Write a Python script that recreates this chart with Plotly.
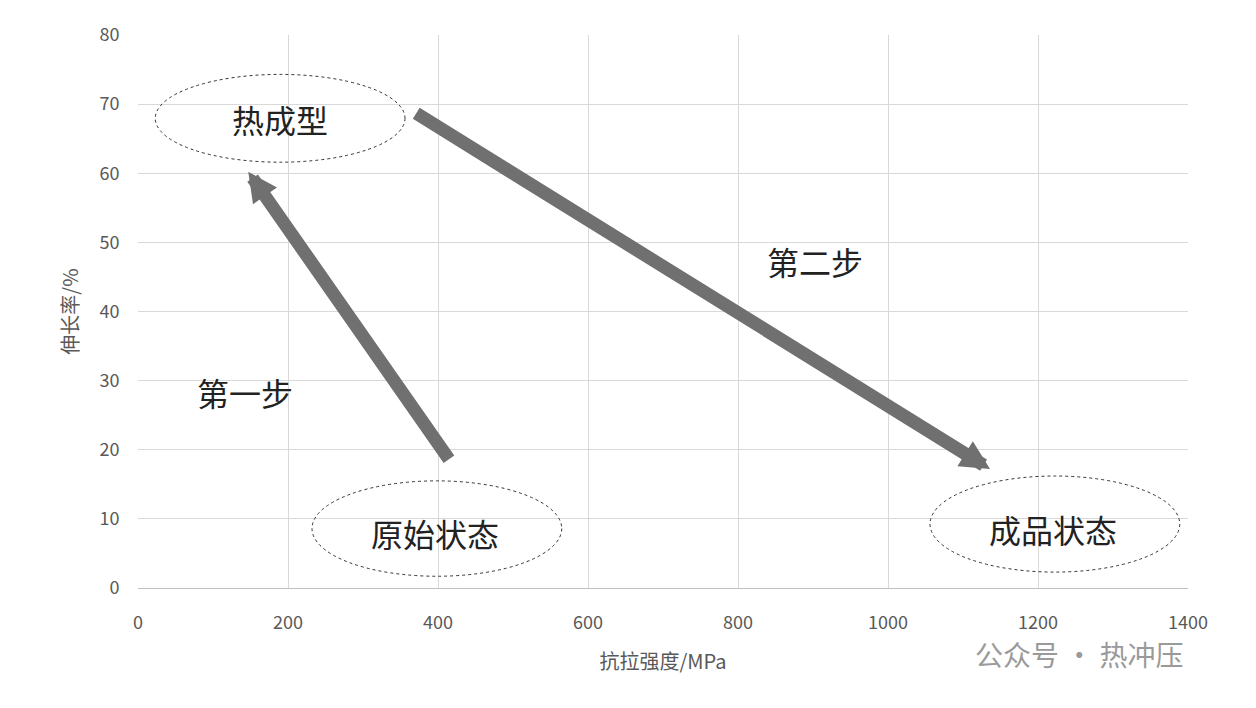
import plotly.graph_objects as go

# ellipse regions (data coords): label, x0, x1, y0, y1, text x, text y
ellipse_labels = ["热成型", "原始状态", "成品状态"]
ellipse_x0 = [23, 232, 1056]
ellipse_x1 = [356, 565, 1389]
ellipse_y0 = [61.6, 1.7, 2.3]
ellipse_y1 = [74.3, 15.5, 16.2]
text_x = [189, 396, 1220]
text_y = [67.8, 8.0, 8.6]

# arrows: tail -> head
arrow_tail_x = [416, 369]
arrow_tail_y = [18.4, 68.8]
arrow_head_x = [147, 1136]
arrow_head_y = [60.2, 17.2]

step_labels = ["第一步", "第二步"]
step_x = [143, 903]
step_y = [28.4, 47.3]

FONT = "Noto Sans CJK SC"

fig = go.Figure()
fig.add_trace(go.Scatter(x=[0], y=[0], mode="markers", marker_opacity=0, showlegend=False, hoverinfo="skip"))

for i in range(len(ellipse_labels)):
    fig.add_shape(type="circle", xref="x", yref="y",
                  x0=ellipse_x0[i], x1=ellipse_x1[i], y0=ellipse_y0[i], y1=ellipse_y1[i],
                  line=dict(color="#333333", width=1, dash="dot"))
    fig.add_annotation(x=text_x[i], y=text_y[i], text=ellipse_labels[i], showarrow=False,
                       font=dict(family=FONT, size=32, color="#222222"))

for i in range(len(arrow_tail_x)):
    fig.add_annotation(x=arrow_head_x[i], y=arrow_head_y[i], ax=arrow_tail_x[i], ay=arrow_tail_y[i],
                       xref="x", yref="y", axref="x", ayref="y", text="", showarrow=True,
                       arrowhead=2, arrowsize=0.45, arrowwidth=13, arrowcolor="#707070")

for i in range(len(step_labels)):
    fig.add_annotation(x=step_x[i], y=step_y[i], text=step_labels[i], showarrow=False,
                       font=dict(family=FONT, size=32, color="#222222"))

fig.add_annotation(x=0.897, y=-0.12, xref="paper", yref="paper", xanchor="center", yanchor="middle",
                   text="公众号 · 热冲压", showarrow=False,
                   font=dict(family=FONT, size=28, color="#9a9a9a"))

fig.update_layout(
    width=1256, height=708,
    margin=dict(l=130, r=76, t=22, b=128),
    plot_bgcolor="white", paper_bgcolor="white",
    font=dict(family=FONT, size=18, color="#595959"),
    xaxis=dict(range=[0, 1400], dtick=200, showgrid=True, gridcolor="#d9d9d9",
               zeroline=False, showline=True, linecolor="#bfbfbf",
               ticks="outside", ticklen=18, tickcolor="rgba(0,0,0,0)",
               title=dict(text="抗拉强度/MPa", font=dict(size=20), standoff=22), tickfont=dict(size=18)),
    yaxis=dict(range=[0, 80], dtick=10, showgrid=True, gridcolor="#d9d9d9",
               zeroline=False, showline=False,
               ticks="outside", ticklen=14, tickcolor="rgba(0,0,0,0)",
               title=dict(text="伸长率/%", font=dict(size=20)), tickfont=dict(size=18)),
)

fig.write_html("out.html")
